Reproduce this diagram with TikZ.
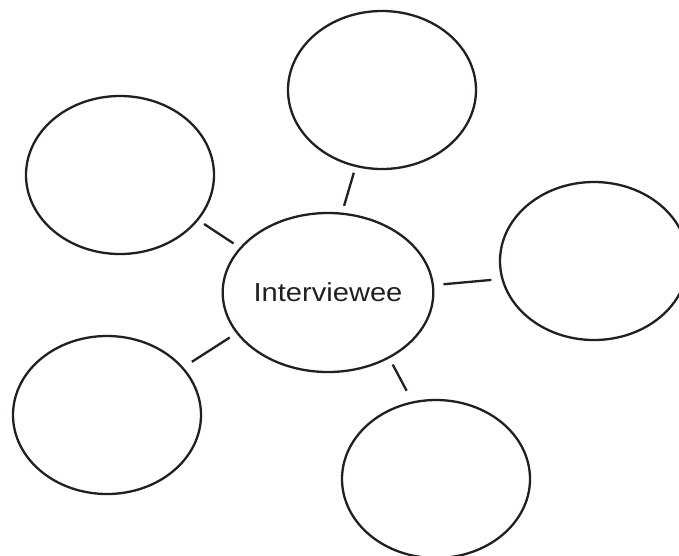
\documentclass[tikz,border=0pt]{standalone}
\usepackage{fontspec}
\setmainfont{Liberation Sans}
\usetikzlibrary{shapes.geometric}
\definecolor{ink}{HTML}{231F20}
\begin{document}
\begin{tikzpicture}[x=1pt,y=1pt,
  bubble/.style={draw=ink, line width=2.3pt, ellipse, inner sep=0pt,
    minimum width=188pt, minimum height=158pt},
  hub/.style={bubble, minimum width=204pt, minimum height=159pt},
  conn/.style={draw=ink, line width=2.3pt}]
\clip (0,0) rectangle (679,-555);
\node[hub] (c) at (328,-292.5) {\fontsize{26}{30}\selectfont\color{ink}\scalebox{1.12}[1]{Interviewee}};
\node[bubble] (t) at (382,-90) {};
\node[bubble] (lt) at (120,-175) {};
\node[bubble] (r) at (594,-261) {};
\node[bubble] (bl) at (107,-415) {};
\node[bubble] (b) at (436,-479) {};
\draw[conn, shorten <=7pt, shorten >=6pt] (c.80) -- (t.251.8);
\draw[conn, shorten <=7.3pt, shorten >=6.7pt] (c.153.9) -- (lt.330.8);
\draw[conn, shorten <=9.5pt, shorten >=10pt] (c.4.4) -- (r.191.7);
\draw[conn, shorten <=7.7pt, shorten >=10pt] (c.204.6) -- (bl.32);
\draw[conn, shorten <=7pt, shorten >=12pt] (c.313.1) -- (b.107.6);
\end{tikzpicture}
\end{document}
